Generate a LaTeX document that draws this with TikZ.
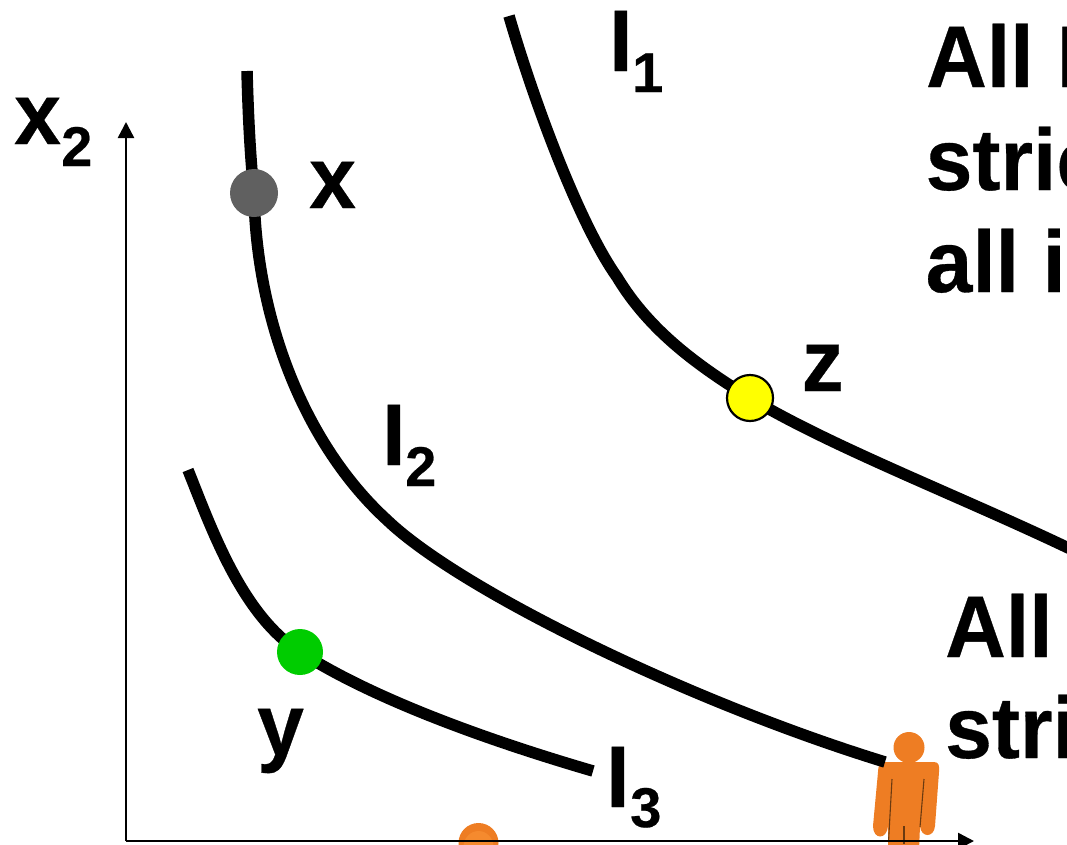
\documentclass[tikz,border=0pt]{standalone}
\usepackage{fontspec}
\setmainfont[BoldFeatures={FakeBold=0.4}]{Liberation Sans}
\usetikzlibrary{arrows.meta}
\tikzset{
  curve/.style={line width=11.5pt,line cap=butt,line join=round},
  axis/.style={line width=2.5pt,-{Triangle[length=16pt,width=16pt]}},
  dotmark/.style={circle,inner sep=0pt,minimum size=#1},
  lab/.style={inner sep=0pt,anchor=base west,yscale=1.04,transform shape,font=\fontsize{84}{100}\selectfont\bfseries},
  sub/.style={inner sep=0pt,anchor=base west,font=\fontsize{56}{66}\selectfont\bfseries},
  para/.style={inner sep=0pt,anchor=base west,yscale=1.04,transform shape,font=\fontsize{84}{100}\selectfont\bfseries},
  orange/.style={fill=figorange,draw=none},
  crease/.style={draw=figdark,line width=1.1pt}
}
\definecolor{figorange}{HTML}{EE7D23}
\definecolor{figlight}{HTML}{F58A2E}
\definecolor{figdark}{HTML}{6A3A10}
\definecolor{dotgray}{HTML}{606060}
\definecolor{dotyellow}{HTML}{FFFF00}
\definecolor{dotgreen}{HTML}{00CC00}
\begin{document}
\begin{tikzpicture}[x=1pt,y=-1pt]
\useasboundingbox (0,0) rectangle (1067,844);
\clip (0,0) rectangle (1067,844);
% figures
\fill[orange] (478.5,843) circle (20);
\fill[figlight] (478.5,847) ellipse (15 and 16);
\fill[orange] (909,747.5) circle (15.5);
\fill[orange] (884,762) -- (934,762) .. controls (939,762) and (939.5,766) .. (939,772)
  -- (935,826) .. controls (934,838) and (921,838) .. (920,826) -- (919,850) -- (888,850) -- (888,826)
  .. controls (887,840) and (873,840) .. (873,826) -- (878,772) .. controls (878,766) and (880,762) .. (884,762) -- cycle;
\draw[crease] (892,779) -- (888.5,842);
\draw[crease] (924,779) -- (920,827);
\draw[crease] (904,826) -- (904,844);
% axes
\coordinate (origin) at (126,841);
\coordinate (ytip) at (126,122);
\coordinate (xtip) at (974,841);
\draw[axis] (origin) -- (ytip);
\draw[axis] (origin) -- (xtip);
% indifference curves
\draw[curve] (509,16) .. controls (535,105) and (580,225) .. (617,277) .. controls (650,332) and (700,367) .. (750,398) .. controls (835,449) and (970,500) .. (1085,556);
\draw[curve] (247,71) .. controls (248,110) and (250,155) .. (254,193) .. controls (256,320) and (305,445) .. (387,520) .. controls (460,590) and (690,702) .. (885,762);
\draw[curve] (188,470) .. controls (212,530) and (242,615) .. (300,652) .. controls (370,697) and (480,738) .. (593,771);
% points
\node[dotmark=48pt,fill=dotgray] (px) at (254,193) {};
\node[dotmark=46pt,fill=dotyellow,draw=black,line width=2.2pt] (pz) at (750,398) {};
\node[dotmark=46pt,fill=dotgreen] (py) at (300,652) {};
% labels
\node[lab] (lx) at (309,208) {x};
\node[lab] (lz) at (801.5,391) {z};
\node[lab] (ly) at (257,755) {y};
\node[lab] (lxtwo) at (14,144) {x};
\node[sub] (lxtwosub) at (61,166) {2};
\node[lab] (ione) at (609,71) {I};
\node[sub] (ionesub) at (632,92) {1};
\node[lab] (itwo) at (382,465) {I};
\node[sub] (itwosub) at (405,486) {2};
\node[lab] (ithree) at (606,807) {I};
\node[sub] (ithreesub) at (630,827) {3};
\node[para] (ta) at (926,87) {All I};
\node[para] (tb) at (925.5,190) {stric};
\node[para] (tc) at (925.5,292) {all i};
\node[para] (td) at (945,657) {All};
\node[para] (te) at (945,758) {stri};
\end{tikzpicture}
\end{document}
